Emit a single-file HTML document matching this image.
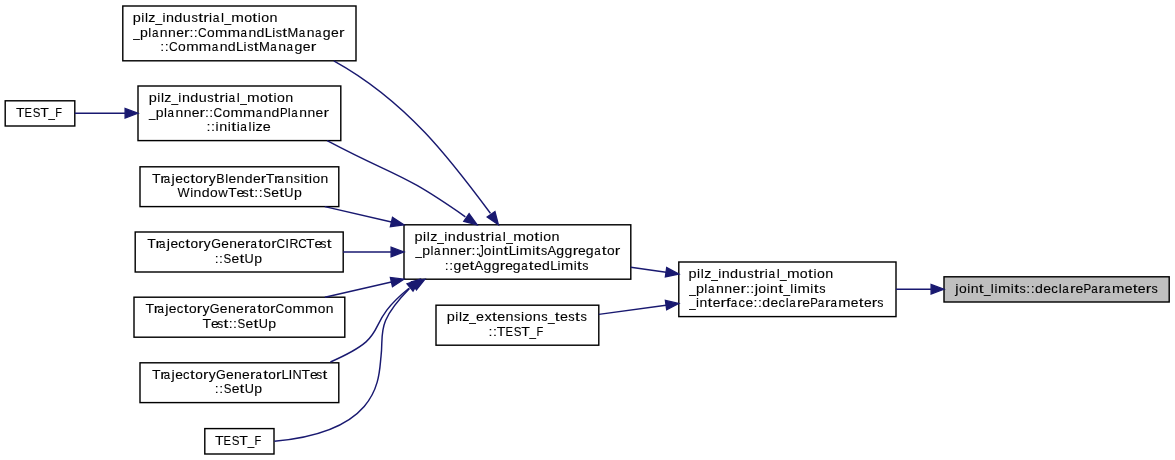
<!DOCTYPE html>
<html><head><meta charset="utf-8"><style>
html,body{margin:0;padding:0;background:#fff;width:1175px;height:460px;overflow:hidden}
svg{display:block}
text{font-family:"Liberation Sans",sans-serif;font-size:13px;fill:#000;stroke:#000;stroke-width:0.1px}
</style></head><body>
<svg width="1175" height="460" viewBox="0 0 1175 460">
<rect width="1175" height="460" fill="#fff"/>
<rect x="122.8" y="6.0" width="233.20" height="54.80" fill="#fff" stroke="#000" stroke-width="1.42"/>
<rect x="5.2" y="100.8" width="69.60" height="25.20" fill="#fff" stroke="#000" stroke-width="1.42"/>
<rect x="138.0" y="86.0" width="202.80" height="54.60" fill="#fff" stroke="#000" stroke-width="1.42"/>
<rect x="140.0" y="166.8" width="198.80" height="39.80" fill="#fff" stroke="#000" stroke-width="1.42"/>
<rect x="135.2" y="232.0" width="208.00" height="40.00" fill="#fff" stroke="#000" stroke-width="1.42"/>
<rect x="134.0" y="297.2" width="210.80" height="40.00" fill="#fff" stroke="#000" stroke-width="1.42"/>
<rect x="140.0" y="362.8" width="198.80" height="39.80" fill="#fff" stroke="#000" stroke-width="1.42"/>
<rect x="204.8" y="428.6" width="69.20" height="25.40" fill="#fff" stroke="#000" stroke-width="1.42"/>
<rect x="404.0" y="224.8" width="226.80" height="54.40" fill="#fff" stroke="#000" stroke-width="1.42"/>
<rect x="436.0" y="305.2" width="162.80" height="40.00" fill="#fff" stroke="#000" stroke-width="1.42"/>
<rect x="678.8" y="262.0" width="217.20" height="54.60" fill="#fff" stroke="#000" stroke-width="1.42"/>
<rect x="944.0" y="276.8" width="225.20" height="25.20" fill="#bfbfbf" stroke="#000" stroke-width="1.42"/>
<path d="M74.8,113.25 L125.10,113.25" fill="none" stroke="#191970" stroke-width="1.45"/>
<polygon points="138.00,113.25 125.10,118.00 125.10,108.50" fill="#191970" stroke="#191970" stroke-width="1.3"/>
<path d="M333.8,60.8 C407.84,101.81 452.33,162.03 490.5,213.4" fill="none" stroke="#191970" stroke-width="1.45"/>
<polygon points="498.40,224.80 487.15,216.90 494.96,211.49" fill="#191970" stroke="#191970" stroke-width="1.3"/>
<path d="M327.1,140.6 C399.56,178.92 398.02,169.89 465.35,216.8" fill="none" stroke="#191970" stroke-width="1.45"/>
<polygon points="477.10,224.80 463.76,221.47 469.11,213.61" fill="#191970" stroke="#191970" stroke-width="1.3"/>
<path d="M324.8,206.6 L391.43,222.00" fill="none" stroke="#191970" stroke-width="1.45"/>
<polygon points="404.00,224.90 390.36,226.62 392.50,217.37" fill="#191970" stroke="#191970" stroke-width="1.3"/>
<path d="M343.2,252.0 L391.10,252.00" fill="none" stroke="#191970" stroke-width="1.45"/>
<polygon points="404.00,252.00 391.10,256.75 391.10,247.25" fill="#191970" stroke="#191970" stroke-width="1.3"/>
<path d="M324.9,297.2 L391.42,282.06" fill="none" stroke="#191970" stroke-width="1.45"/>
<polygon points="404.00,279.20 392.48,286.69 390.37,277.43" fill="#191970" stroke="#191970" stroke-width="1.3"/>
<path d="M330.4,362.0 C396.7,332.87 358.76,328.82 409.0,288.2" fill="none" stroke="#191970" stroke-width="1.45"/>
<polygon points="420.00,279.20 413.02,291.05 407.01,283.69" fill="#191970" stroke="#191970" stroke-width="1.3"/>
<path d="M274.3,441.2 C382.42,431.56 378.61,375.97 381.02,356.37 C383.91,332.83 375.1,323.77 409.5,288.6" fill="none" stroke="#191970" stroke-width="1.45"/>
<polygon points="425.00,279.20 416.43,289.95 411.51,281.83" fill="#191970" stroke="#191970" stroke-width="1.3"/>
<path d="M630.8,267.2 L666.03,272.19" fill="none" stroke="#191970" stroke-width="1.45"/>
<polygon points="678.80,274.00 665.36,276.89 666.69,267.49" fill="#191970" stroke="#191970" stroke-width="1.3"/>
<path d="M598.8,314.4 L666.02,305.16" fill="none" stroke="#191970" stroke-width="1.45"/>
<polygon points="678.80,303.40 666.67,309.86 665.37,300.45" fill="#191970" stroke="#191970" stroke-width="1.3"/>
<path d="M896.0,289.25 L931.10,289.25" fill="none" stroke="#191970" stroke-width="1.45"/>
<polygon points="944.00,289.25 931.10,294.00 931.10,284.50" fill="#191970" stroke="#191970" stroke-width="1.3"/>
<g style="filter:grayscale(1)">
<text transform="translate(136.94,22) scale(1.116,1)" x="-3.76">p</text><text transform="translate(142.79,22) scale(1.049,1)" x="-1.44">i</text><text transform="translate(146.50,22) scale(1.049,1)" x="-1.45">l</text><text transform="translate(151.85,22) scale(1.100,1)" x="-3.19">z</text><text transform="translate(158.69,22) scale(0.915,1)" x="-3.59">_</text><text transform="translate(163.88,22) scale(1.049,1)" x="-1.44">i</text><text transform="translate(169.99,22) scale(1.106,1)" x="-3.62">n</text><text transform="translate(178.18,22) scale(1.115,1)" x="-3.47">d</text><text transform="translate(186.84,22) scale(1.106,1)" x="-3.61">u</text><text transform="translate(194.61,22) scale(0.984,1)" x="-3.20">s</text><text transform="translate(200.69,22) scale(1.350,1)" x="-1.86">t</text><text transform="translate(206.63,22) scale(1.315,1)" x="-2.49">r</text><text transform="translate(210.62,22) scale(1.049,1)" x="-1.44">i</text><text transform="translate(216.36,22) scale(0.923,1)" x="-3.89">a</text><text transform="translate(222.50,22) scale(1.049,1)" x="-1.45">l</text><text transform="translate(227.69,22) scale(0.915,1)" x="-3.59">_</text><text transform="translate(237.56,22) scale(1.169,1)" x="-5.42">m</text><text transform="translate(248.10,22) scale(1.091,1)" x="-3.61">o</text><text transform="translate(254.82,22) scale(1.350,1)" x="-1.86">t</text><text transform="translate(259.27,22) scale(1.049,1)" x="-1.44">i</text><text transform="translate(265.20,22) scale(1.091,1)" x="-3.61">o</text><text transform="translate(273.55,22) scale(1.106,1)" x="-3.62">n</text>
<text transform="translate(136.49,37) scale(0.891,1)" x="-3.59">_</text><text transform="translate(144.10,37) scale(1.087,1)" x="-3.76">p</text><text transform="translate(149.79,37) scale(1.021,1)" x="-1.45">l</text><text transform="translate(155.37,37) scale(0.898,1)" x="-3.89">a</text><text transform="translate(163.71,37) scale(1.077,1)" x="-3.62">n</text><text transform="translate(171.94,37) scale(1.077,1)" x="-3.62">n</text><text transform="translate(180.02,37) scale(1.079,1)" x="-3.60">e</text><text transform="translate(187.27,37) scale(1.280,1)" x="-2.49">r</text><text transform="translate(191.54,37) scale(1.081,1)" x="-1.81">:</text><text transform="translate(195.69,37) scale(1.081,1)" x="-1.81">:</text><text transform="translate(202.42,37) scale(0.927,1)" x="-4.78">C</text><text transform="translate(210.92,37) scale(1.062,1)" x="-3.61">o</text><text transform="translate(221.25,37) scale(1.138,1)" x="-5.42">m</text><text transform="translate(233.90,37) scale(1.138,1)" x="-5.42">m</text><text transform="translate(243.97,37) scale(0.898,1)" x="-3.89">a</text><text transform="translate(252.30,37) scale(1.077,1)" x="-3.62">n</text><text transform="translate(260.27,37) scale(1.086,1)" x="-3.47">d</text><text transform="translate(268.85,37) scale(1.028,1)" x="-3.93">L</text><text transform="translate(273.67,37) scale(1.021,1)" x="-1.44">i</text><text transform="translate(278.89,37) scale(0.958,1)" x="-3.20">s</text><text transform="translate(284.80,37) scale(1.335,1)" x="-1.86">t</text><text transform="translate(292.93,37) scale(0.996,1)" x="-5.41">M</text><text transform="translate(302.31,37) scale(0.898,1)" x="-3.89">a</text><text transform="translate(310.65,37) scale(1.077,1)" x="-3.62">n</text><text transform="translate(318.50,37) scale(0.898,1)" x="-3.89">a</text><text transform="translate(326.57,37) scale(1.086,1)" x="-3.47">g</text><text transform="translate(334.94,37) scale(1.079,1)" x="-3.60">e</text><text transform="translate(342.18,37) scale(1.280,1)" x="-2.49">r</text>
<text transform="translate(162.21,51) scale(1.087,1)" x="-1.81">:</text><text transform="translate(166.61,51) scale(1.087,1)" x="-1.81">:</text><text transform="translate(173.38,51) scale(0.933,1)" x="-4.78">C</text><text transform="translate(181.93,51) scale(1.068,1)" x="-3.61">o</text><text transform="translate(192.32,51) scale(1.145,1)" x="-5.42">m</text><text transform="translate(205.04,51) scale(1.145,1)" x="-5.42">m</text><text transform="translate(215.16,51) scale(0.903,1)" x="-3.89">a</text><text transform="translate(223.54,51) scale(1.083,1)" x="-3.62">n</text><text transform="translate(231.55,51) scale(1.092,1)" x="-3.47">d</text><text transform="translate(240.17,51) scale(1.033,1)" x="-3.93">L</text><text transform="translate(245.02,51) scale(1.027,1)" x="-1.44">i</text><text transform="translate(250.27,51) scale(0.963,1)" x="-3.20">s</text><text transform="translate(256.22,51) scale(1.343,1)" x="-1.86">t</text><text transform="translate(264.39,51) scale(1.002,1)" x="-5.41">M</text><text transform="translate(273.82,51) scale(0.903,1)" x="-3.89">a</text><text transform="translate(282.20,51) scale(1.083,1)" x="-3.62">n</text><text transform="translate(290.10,51) scale(0.903,1)" x="-3.89">a</text><text transform="translate(298.22,51) scale(1.092,1)" x="-3.47">g</text><text transform="translate(306.63,51) scale(1.085,1)" x="-3.60">e</text><text transform="translate(313.91,51) scale(1.287,1)" x="-2.49">r</text>
<text transform="translate(20.21,117) scale(1.085,1)" x="-3.97">T</text><text transform="translate(28.47,117) scale(0.862,1)" x="-4.59">E</text><text transform="translate(36.50,117) scale(0.887,1)" x="-4.33">S</text><text transform="translate(44.49,117) scale(1.085,1)" x="-3.97">T</text><text transform="translate(51.68,117) scale(0.887,1)" x="-3.59">_</text><text transform="translate(58.89,117) scale(0.853,1)" x="-4.24">F</text>
<text transform="translate(152.94,102) scale(1.114,1)" x="-3.76">p</text><text transform="translate(158.78,102) scale(1.047,1)" x="-1.44">i</text><text transform="translate(162.47,102) scale(1.047,1)" x="-1.45">l</text><text transform="translate(167.81,102) scale(1.097,1)" x="-3.19">z</text><text transform="translate(174.64,102) scale(0.913,1)" x="-3.59">_</text><text transform="translate(179.82,102) scale(1.047,1)" x="-1.44">i</text><text transform="translate(185.92,102) scale(1.104,1)" x="-3.62">n</text><text transform="translate(194.09,102) scale(1.113,1)" x="-3.47">d</text><text transform="translate(202.73,102) scale(1.104,1)" x="-3.61">u</text><text transform="translate(210.49,102) scale(0.982,1)" x="-3.20">s</text><text transform="translate(216.55,102) scale(1.350,1)" x="-1.86">t</text><text transform="translate(222.48,102) scale(1.312,1)" x="-2.49">r</text><text transform="translate(226.47,102) scale(1.047,1)" x="-1.44">i</text><text transform="translate(232.19,102) scale(0.921,1)" x="-3.89">a</text><text transform="translate(238.32,102) scale(1.047,1)" x="-1.45">l</text><text transform="translate(243.50,102) scale(0.913,1)" x="-3.59">_</text><text transform="translate(253.35,102) scale(1.167,1)" x="-5.42">m</text><text transform="translate(263.87,102) scale(1.089,1)" x="-3.61">o</text><text transform="translate(270.57,102) scale(1.350,1)" x="-1.86">t</text><text transform="translate(275.01,102) scale(1.047,1)" x="-1.44">i</text><text transform="translate(280.93,102) scale(1.089,1)" x="-3.61">o</text><text transform="translate(289.26,102) scale(1.104,1)" x="-3.62">n</text>
<text transform="translate(152.28,117) scale(0.886,1)" x="-3.59">_</text><text transform="translate(159.85,117) scale(1.081,1)" x="-3.76">p</text><text transform="translate(165.51,117) scale(1.016,1)" x="-1.45">l</text><text transform="translate(171.06,117) scale(0.893,1)" x="-3.89">a</text><text transform="translate(179.35,117) scale(1.071,1)" x="-3.62">n</text><text transform="translate(187.53,117) scale(1.071,1)" x="-3.62">n</text><text transform="translate(195.57,117) scale(1.073,1)" x="-3.60">e</text><text transform="translate(202.77,117) scale(1.273,1)" x="-2.49">r</text><text transform="translate(207.02,117) scale(1.075,1)" x="-1.81">:</text><text transform="translate(211.14,117) scale(1.075,1)" x="-1.81">:</text><text transform="translate(217.84,117) scale(0.922,1)" x="-4.78">C</text><text transform="translate(226.29,117) scale(1.056,1)" x="-3.61">o</text><text transform="translate(236.56,117) scale(1.132,1)" x="-5.42">m</text><text transform="translate(249.14,117) scale(1.132,1)" x="-5.42">m</text><text transform="translate(259.15,117) scale(0.893,1)" x="-3.89">a</text><text transform="translate(267.44,117) scale(1.071,1)" x="-3.62">n</text><text transform="translate(275.36,117) scale(1.080,1)" x="-3.47">d</text><text transform="translate(284.00,117) scale(0.879,1)" x="-4.53">P</text><text transform="translate(289.28,117) scale(1.016,1)" x="-1.45">l</text><text transform="translate(294.83,117) scale(0.893,1)" x="-3.89">a</text><text transform="translate(303.11,117) scale(1.071,1)" x="-3.62">n</text><text transform="translate(311.30,117) scale(1.071,1)" x="-3.62">n</text><text transform="translate(319.34,117) scale(1.073,1)" x="-3.60">e</text><text transform="translate(326.54,117) scale(1.273,1)" x="-2.49">r</text>
<text transform="translate(208.47,131) scale(1.110,1)" x="-1.81">:</text><text transform="translate(212.96,131) scale(1.110,1)" x="-1.81">:</text><text transform="translate(217.06,131) scale(1.049,1)" x="-1.44">i</text><text transform="translate(223.18,131) scale(1.106,1)" x="-3.62">n</text><text transform="translate(229.22,131) scale(1.049,1)" x="-1.44">i</text><text transform="translate(233.71,131) scale(1.350,1)" x="-1.86">t</text><text transform="translate(238.16,131) scale(1.049,1)" x="-1.44">i</text><text transform="translate(243.89,131) scale(0.923,1)" x="-3.89">a</text><text transform="translate(250.04,131) scale(1.049,1)" x="-1.45">l</text><text transform="translate(253.75,131) scale(1.049,1)" x="-1.44">i</text><text transform="translate(259.10,131) scale(1.100,1)" x="-3.19">z</text><text transform="translate(266.72,131) scale(1.109,1)" x="-3.60">e</text>
<text transform="translate(156.20,183) scale(1.083,1)" x="-3.97">T</text><text transform="translate(163.38,183) scale(1.272,1)" x="-2.49">r</text><text transform="translate(167.31,183) scale(0.893,1)" x="-3.89">a</text><text transform="translate(172.53,183) scale(1.120,1)" x="-0.85">j</text><text transform="translate(179.03,183) scale(1.072,1)" x="-3.60">e</text><text transform="translate(186.49,183) scale(0.996,1)" x="-3.35">c</text><text transform="translate(192.64,183) scale(1.327,1)" x="-1.86">t</text><text transform="translate(199.10,183) scale(1.056,1)" x="-3.61">o</text><text transform="translate(206.28,183) scale(1.272,1)" x="-2.49">r</text><text transform="translate(212.17,183) scale(1.066,1)" x="-3.25">y</text><text transform="translate(220.59,183) scale(0.965,1)" x="-4.53">B</text><text transform="translate(226.64,183) scale(1.015,1)" x="-1.45">l</text><text transform="translate(232.42,183) scale(1.072,1)" x="-3.60">e</text><text transform="translate(240.50,183) scale(1.071,1)" x="-3.62">n</text><text transform="translate(248.42,183) scale(1.079,1)" x="-3.47">d</text><text transform="translate(256.73,183) scale(1.072,1)" x="-3.60">e</text><text transform="translate(263.93,183) scale(1.272,1)" x="-2.49">r</text><text transform="translate(269.94,183) scale(1.083,1)" x="-3.97">T</text><text transform="translate(277.12,183) scale(1.272,1)" x="-2.49">r</text><text transform="translate(281.05,183) scale(0.893,1)" x="-3.89">a</text><text transform="translate(289.33,183) scale(1.071,1)" x="-3.62">n</text><text transform="translate(296.78,183) scale(0.952,1)" x="-3.20">s</text><text transform="translate(301.90,183) scale(1.015,1)" x="-1.44">i</text><text transform="translate(306.24,183) scale(1.327,1)" x="-1.86">t</text><text transform="translate(310.55,183) scale(1.015,1)" x="-1.44">i</text><text transform="translate(316.29,183) scale(1.056,1)" x="-3.61">o</text><text transform="translate(324.36,183) scale(1.071,1)" x="-3.62">n</text>
<text transform="translate(183.56,197) scale(0.987,1)" x="-6.14">W</text><text transform="translate(191.80,197) scale(1.023,1)" x="-1.44">i</text><text transform="translate(197.48,197) scale(1.079,1)" x="-3.62">n</text><text transform="translate(205.47,197) scale(1.088,1)" x="-3.47">d</text><text transform="translate(213.81,197) scale(1.064,1)" x="-3.61">o</text><text transform="translate(223.11,197) scale(1.012,1)" x="-4.70">w</text><text transform="translate(232.41,197) scale(1.092,1)" x="-3.97">T</text><text transform="translate(240.39,197) scale(1.081,1)" x="-3.60">e</text><text transform="translate(245.60,197) scale(0.959,1)" x="-3.20">s</text><text transform="translate(251.52,197) scale(1.338,1)" x="-1.86">t</text><text transform="translate(256.25,197) scale(1.083,1)" x="-1.81">:</text><text transform="translate(260.63,197) scale(1.083,1)" x="-1.81">:</text><text transform="translate(267.02,197) scale(0.892,1)" x="-4.33">S</text><text transform="translate(275.10,197) scale(1.081,1)" x="-3.60">e</text><text transform="translate(281.66,197) scale(1.338,1)" x="-1.86">t</text><text transform="translate(288.95,197) scale(0.984,1)" x="-4.69">U</text><text transform="translate(298.08,197) scale(1.089,1)" x="-3.76">p</text>
<text transform="translate(151.50,248) scale(1.079,1)" x="-3.97">T</text><text transform="translate(158.65,248) scale(1.267,1)" x="-2.49">r</text><text transform="translate(162.56,248) scale(0.890,1)" x="-3.89">a</text><text transform="translate(167.77,248) scale(1.116,1)" x="-0.85">j</text><text transform="translate(174.24,248) scale(1.068,1)" x="-3.60">e</text><text transform="translate(181.68,248) scale(0.993,1)" x="-3.35">c</text><text transform="translate(187.79,248) scale(1.322,1)" x="-1.86">t</text><text transform="translate(194.23,248) scale(1.052,1)" x="-3.61">o</text><text transform="translate(201.39,248) scale(1.267,1)" x="-2.49">r</text><text transform="translate(207.26,248) scale(1.062,1)" x="-3.25">y</text><text transform="translate(215.88,248) scale(0.965,1)" x="-4.90">G</text><text transform="translate(225.00,248) scale(1.068,1)" x="-3.60">e</text><text transform="translate(233.05,248) scale(1.067,1)" x="-3.62">n</text><text transform="translate(241.06,248) scale(1.068,1)" x="-3.60">e</text><text transform="translate(248.23,248) scale(1.267,1)" x="-2.49">r</text><text transform="translate(254.03,248) scale(0.890,1)" x="-3.89">a</text><text transform="translate(260.71,248) scale(1.322,1)" x="-1.86">t</text><text transform="translate(267.15,248) scale(1.052,1)" x="-3.61">o</text><text transform="translate(274.31,248) scale(1.267,1)" x="-2.49">r</text><text transform="translate(280.87,248) scale(0.918,1)" x="-4.78">C</text><text transform="translate(287.24,248) scale(1.046,1)" x="-1.81">I</text><text transform="translate(294.05,248) scale(0.946,1)" x="-4.93">R</text><text transform="translate(302.58,248) scale(0.918,1)" x="-4.78">C</text><text transform="translate(310.34,248) scale(1.079,1)" x="-3.97">T</text><text transform="translate(318.24,248) scale(1.068,1)" x="-3.60">e</text><text transform="translate(323.38,248) scale(0.948,1)" x="-3.20">s</text><text transform="translate(329.24,248) scale(1.322,1)" x="-1.86">t</text>
<text transform="translate(216.67,263) scale(1.077,1)" x="-1.81">:</text><text transform="translate(221.02,263) scale(1.077,1)" x="-1.81">:</text><text transform="translate(227.37,263) scale(0.887,1)" x="-4.33">S</text><text transform="translate(235.40,263) scale(1.075,1)" x="-3.60">e</text><text transform="translate(241.92,263) scale(1.330,1)" x="-1.86">t</text><text transform="translate(249.17,263) scale(0.978,1)" x="-4.69">U</text><text transform="translate(258.25,263) scale(1.082,1)" x="-3.76">p</text>
<text transform="translate(149.83,313) scale(1.085,1)" x="-3.97">T</text><text transform="translate(157.02,313) scale(1.274,1)" x="-2.49">r</text><text transform="translate(160.95,313) scale(0.894,1)" x="-3.89">a</text><text transform="translate(166.18,313) scale(1.122,1)" x="-0.85">j</text><text transform="translate(172.69,313) scale(1.074,1)" x="-3.60">e</text><text transform="translate(180.16,313) scale(0.998,1)" x="-3.35">c</text><text transform="translate(186.32,313) scale(1.329,1)" x="-1.86">t</text><text transform="translate(192.79,313) scale(1.057,1)" x="-3.61">o</text><text transform="translate(199.99,313) scale(1.274,1)" x="-2.49">r</text><text transform="translate(205.88,313) scale(1.068,1)" x="-3.25">y</text><text transform="translate(214.55,313) scale(0.970,1)" x="-4.90">G</text><text transform="translate(223.71,313) scale(1.074,1)" x="-3.60">e</text><text transform="translate(231.81,313) scale(1.072,1)" x="-3.62">n</text><text transform="translate(239.86,313) scale(1.074,1)" x="-3.60">e</text><text transform="translate(247.07,313) scale(1.274,1)" x="-2.49">r</text><text transform="translate(252.90,313) scale(0.894,1)" x="-3.89">a</text><text transform="translate(259.61,313) scale(1.329,1)" x="-1.86">t</text><text transform="translate(266.09,313) scale(1.057,1)" x="-3.61">o</text><text transform="translate(273.28,313) scale(1.274,1)" x="-2.49">r</text><text transform="translate(279.88,313) scale(0.923,1)" x="-4.78">C</text><text transform="translate(288.34,313) scale(1.057,1)" x="-3.61">o</text><text transform="translate(298.63,313) scale(1.133,1)" x="-5.42">m</text><text transform="translate(311.22,313) scale(1.133,1)" x="-5.42">m</text><text transform="translate(321.43,313) scale(1.057,1)" x="-3.61">o</text><text transform="translate(329.52,313) scale(1.072,1)" x="-3.62">n</text>
<text transform="translate(206.91,328) scale(1.088,1)" x="-3.97">T</text><text transform="translate(214.87,328) scale(1.077,1)" x="-3.60">e</text><text transform="translate(220.06,328) scale(0.956,1)" x="-3.20">s</text><text transform="translate(225.96,328) scale(1.333,1)" x="-1.86">t</text><text transform="translate(230.67,328) scale(1.079,1)" x="-1.81">:</text><text transform="translate(235.04,328) scale(1.079,1)" x="-1.81">:</text><text transform="translate(241.40,328) scale(0.889,1)" x="-4.33">S</text><text transform="translate(249.45,328) scale(1.077,1)" x="-3.60">e</text><text transform="translate(255.99,328) scale(1.333,1)" x="-1.86">t</text><text transform="translate(263.25,328) scale(0.980,1)" x="-4.69">U</text><text transform="translate(272.35,328) scale(1.085,1)" x="-3.76">p</text>
<text transform="translate(156.19,379) scale(1.081,1)" x="-3.97">T</text><text transform="translate(163.36,379) scale(1.270,1)" x="-2.49">r</text><text transform="translate(167.28,379) scale(0.891,1)" x="-3.89">a</text><text transform="translate(172.50,379) scale(1.118,1)" x="-0.85">j</text><text transform="translate(178.99,379) scale(1.071,1)" x="-3.60">e</text><text transform="translate(186.44,379) scale(0.995,1)" x="-3.35">c</text><text transform="translate(192.57,379) scale(1.325,1)" x="-1.86">t</text><text transform="translate(199.02,379) scale(1.054,1)" x="-3.61">o</text><text transform="translate(206.20,379) scale(1.270,1)" x="-2.49">r</text><text transform="translate(212.08,379) scale(1.065,1)" x="-3.25">y</text><text transform="translate(220.72,379) scale(0.967,1)" x="-4.90">G</text><text transform="translate(229.85,379) scale(1.071,1)" x="-3.60">e</text><text transform="translate(237.93,379) scale(1.069,1)" x="-3.62">n</text><text transform="translate(245.95,379) scale(1.071,1)" x="-3.60">e</text><text transform="translate(253.14,379) scale(1.270,1)" x="-2.49">r</text><text transform="translate(258.95,379) scale(0.891,1)" x="-3.89">a</text><text transform="translate(265.64,379) scale(1.325,1)" x="-1.86">t</text><text transform="translate(272.10,379) scale(1.054,1)" x="-3.61">o</text><text transform="translate(279.27,379) scale(1.270,1)" x="-2.49">r</text><text transform="translate(285.52,379) scale(1.020,1)" x="-3.93">L</text><text transform="translate(290.42,379) scale(1.048,1)" x="-1.81">I</text><text transform="translate(297.14,379) scale(0.979,1)" x="-4.70">N</text><text transform="translate(305.90,379) scale(1.081,1)" x="-3.97">T</text><text transform="translate(313.81,379) scale(1.071,1)" x="-3.60">e</text><text transform="translate(318.96,379) scale(0.950,1)" x="-3.20">s</text><text transform="translate(324.83,379) scale(1.325,1)" x="-1.86">t</text>
<text transform="translate(216.79,393) scale(1.078,1)" x="-1.81">:</text><text transform="translate(221.15,393) scale(1.078,1)" x="-1.81">:</text><text transform="translate(227.50,393) scale(0.888,1)" x="-4.33">S</text><text transform="translate(235.54,393) scale(1.076,1)" x="-3.60">e</text><text transform="translate(242.07,393) scale(1.331,1)" x="-1.86">t</text><text transform="translate(249.33,393) scale(0.979,1)" x="-4.69">U</text><text transform="translate(258.41,393) scale(1.084,1)" x="-3.76">p</text>
<text transform="translate(219.23,445) scale(1.090,1)" x="-3.97">T</text><text transform="translate(227.53,445) scale(0.867,1)" x="-4.59">E</text><text transform="translate(235.60,445) scale(0.891,1)" x="-4.33">S</text><text transform="translate(243.63,445) scale(1.090,1)" x="-3.97">T</text><text transform="translate(250.85,445) scale(0.892,1)" x="-3.59">_</text><text transform="translate(258.10,445) scale(0.857,1)" x="-4.24">F</text>
<text transform="translate(418.76,241) scale(1.117,1)" x="-3.76">p</text><text transform="translate(424.61,241) scale(1.050,1)" x="-1.44">i</text><text transform="translate(428.32,241) scale(1.050,1)" x="-1.45">l</text><text transform="translate(433.68,241) scale(1.100,1)" x="-3.19">z</text><text transform="translate(440.52,241) scale(0.916,1)" x="-3.59">_</text><text transform="translate(445.71,241) scale(1.050,1)" x="-1.44">i</text><text transform="translate(451.83,241) scale(1.107,1)" x="-3.62">n</text><text transform="translate(460.02,241) scale(1.116,1)" x="-3.47">d</text><text transform="translate(468.69,241) scale(1.107,1)" x="-3.61">u</text><text transform="translate(476.48,241) scale(0.984,1)" x="-3.20">s</text><text transform="translate(482.55,241) scale(1.350,1)" x="-1.86">t</text><text transform="translate(488.50,241) scale(1.316,1)" x="-2.49">r</text><text transform="translate(492.50,241) scale(1.050,1)" x="-1.44">i</text><text transform="translate(498.23,241) scale(0.924,1)" x="-3.89">a</text><text transform="translate(504.39,241) scale(1.050,1)" x="-1.45">l</text><text transform="translate(509.58,241) scale(0.916,1)" x="-3.59">_</text><text transform="translate(519.46,241) scale(1.170,1)" x="-5.42">m</text><text transform="translate(530.01,241) scale(1.092,1)" x="-3.61">o</text><text transform="translate(536.73,241) scale(1.350,1)" x="-1.86">t</text><text transform="translate(541.18,241) scale(1.050,1)" x="-1.44">i</text><text transform="translate(547.12,241) scale(1.092,1)" x="-3.61">o</text><text transform="translate(555.47,241) scale(1.107,1)" x="-3.62">n</text>
<text transform="translate(418.63,255) scale(0.888,1)" x="-3.59">_</text><text transform="translate(426.22,255) scale(1.084,1)" x="-3.76">p</text><text transform="translate(431.90,255) scale(1.018,1)" x="-1.45">l</text><text transform="translate(437.46,255) scale(0.896,1)" x="-3.89">a</text><text transform="translate(445.77,255) scale(1.074,1)" x="-3.62">n</text><text transform="translate(453.98,255) scale(1.074,1)" x="-3.62">n</text><text transform="translate(462.04,255) scale(1.076,1)" x="-3.60">e</text><text transform="translate(469.26,255) scale(1.276,1)" x="-2.49">r</text><text transform="translate(473.52,255) scale(1.078,1)" x="-1.81">:</text><text transform="translate(477.65,255) scale(1.078,1)" x="-1.81">:</text><text transform="translate(480.77,257.4) scale(0.8,1.3)" x="-2.87">J</text><text transform="translate(487.62,255) scale(1.059,1)" x="-3.61">o</text><text transform="translate(493.38,255) scale(1.018,1)" x="-1.44">i</text><text transform="translate(499.32,255) scale(1.074,1)" x="-3.62">n</text><text transform="translate(505.94,255) scale(1.331,1)" x="-1.86">t</text><text transform="translate(512.67,255) scale(1.025,1)" x="-3.93">L</text><text transform="translate(517.48,255) scale(1.018,1)" x="-1.44">i</text><text transform="translate(525.62,255) scale(1.135,1)" x="-5.42">m</text><text transform="translate(533.69,255) scale(1.018,1)" x="-1.44">i</text><text transform="translate(538.04,255) scale(1.331,1)" x="-1.86">t</text><text transform="translate(543.97,255) scale(0.955,1)" x="-3.20">s</text><text transform="translate(551.73,255) scale(1.004,1)" x="-4.34">A</text><text transform="translate(560.05,255) scale(1.083,1)" x="-3.47">g</text><text transform="translate(568.27,255) scale(1.083,1)" x="-3.47">g</text><text transform="translate(575.86,255) scale(1.276,1)" x="-2.49">r</text><text transform="translate(581.93,255) scale(1.076,1)" x="-3.60">e</text><text transform="translate(589.50,255) scale(1.083,1)" x="-3.47">g</text><text transform="translate(597.61,255) scale(0.896,1)" x="-3.89">a</text><text transform="translate(604.33,255) scale(1.331,1)" x="-1.86">t</text><text transform="translate(610.82,255) scale(1.059,1)" x="-3.61">o</text><text transform="translate(618.03,255) scale(1.276,1)" x="-2.49">r</text>
<text transform="translate(446.79,270) scale(1.074,1)" x="-1.81">:</text><text transform="translate(451.14,270) scale(1.074,1)" x="-1.81">:</text><text transform="translate(457.18,270) scale(1.079,1)" x="-3.47">g</text><text transform="translate(465.48,270) scale(1.072,1)" x="-3.60">e</text><text transform="translate(471.99,270) scale(1.326,1)" x="-1.86">t</text><text transform="translate(478.91,270) scale(1.000,1)" x="-4.34">A</text><text transform="translate(487.19,270) scale(1.079,1)" x="-3.47">g</text><text transform="translate(495.38,270) scale(1.079,1)" x="-3.47">g</text><text transform="translate(502.94,270) scale(1.272,1)" x="-2.49">r</text><text transform="translate(508.99,270) scale(1.072,1)" x="-3.60">e</text><text transform="translate(516.53,270) scale(1.079,1)" x="-3.47">g</text><text transform="translate(524.61,270) scale(0.892,1)" x="-3.89">a</text><text transform="translate(531.31,270) scale(1.326,1)" x="-1.86">t</text><text transform="translate(537.80,270) scale(1.072,1)" x="-3.60">e</text><text transform="translate(545.62,270) scale(1.079,1)" x="-3.47">d</text><text transform="translate(554.14,270) scale(1.021,1)" x="-3.93">L</text><text transform="translate(558.93,270) scale(1.014,1)" x="-1.44">i</text><text transform="translate(567.04,270) scale(1.131,1)" x="-5.42">m</text><text transform="translate(575.08,270) scale(1.014,1)" x="-1.44">i</text><text transform="translate(579.42,270) scale(1.326,1)" x="-1.86">t</text><text transform="translate(585.32,270) scale(0.951,1)" x="-3.20">s</text>
<text transform="translate(450.91,321) scale(1.116,1)" x="-3.76">p</text><text transform="translate(456.76,321) scale(1.048,1)" x="-1.44">i</text><text transform="translate(460.46,321) scale(1.048,1)" x="-1.45">l</text><text transform="translate(465.81,321) scale(1.099,1)" x="-3.19">z</text><text transform="translate(472.64,321) scale(0.915,1)" x="-3.59">_</text><text transform="translate(480.09,321) scale(1.108,1)" x="-3.60">e</text><text transform="translate(488.09,321) scale(1.138,1)" x="-3.25">x</text><text transform="translate(494.47,321) scale(1.350,1)" x="-1.86">t</text><text transform="translate(501.17,321) scale(1.108,1)" x="-3.60">e</text><text transform="translate(509.53,321) scale(1.106,1)" x="-3.62">n</text><text transform="translate(517.22,321) scale(0.983,1)" x="-3.20">s</text><text transform="translate(522.51,321) scale(1.048,1)" x="-1.44">i</text><text transform="translate(528.44,321) scale(1.090,1)" x="-3.61">o</text><text transform="translate(536.78,321) scale(1.106,1)" x="-3.62">n</text><text transform="translate(544.47,321) scale(0.983,1)" x="-3.20">s</text><text transform="translate(551.24,321) scale(0.915,1)" x="-3.59">_</text><text transform="translate(557.21,321) scale(1.350,1)" x="-1.86">t</text><text transform="translate(563.92,321) scale(1.108,1)" x="-3.60">e</text><text transform="translate(571.51,321) scale(0.983,1)" x="-3.20">s</text><text transform="translate(577.58,321) scale(1.350,1)" x="-1.86">t</text><text transform="translate(583.68,321) scale(0.983,1)" x="-3.20">s</text>
<text transform="translate(490.54,336) scale(1.084,1)" x="-1.81">:</text><text transform="translate(494.93,336) scale(1.084,1)" x="-1.81">:</text><text transform="translate(501.09,336) scale(1.092,1)" x="-3.97">T</text><text transform="translate(509.40,336) scale(0.868,1)" x="-4.59">E</text><text transform="translate(517.49,336) scale(0.893,1)" x="-4.33">S</text><text transform="translate(525.53,336) scale(1.092,1)" x="-3.97">T</text><text transform="translate(532.76,336) scale(0.893,1)" x="-3.59">_</text><text transform="translate(540.02,336) scale(0.858,1)" x="-4.24">F</text>
<text transform="translate(692.75,278) scale(1.115,1)" x="-3.76">p</text><text transform="translate(698.59,278) scale(1.048,1)" x="-1.44">i</text><text transform="translate(702.29,278) scale(1.048,1)" x="-1.45">l</text><text transform="translate(707.64,278) scale(1.098,1)" x="-3.19">z</text><text transform="translate(714.47,278) scale(0.914,1)" x="-3.59">_</text><text transform="translate(719.65,278) scale(1.048,1)" x="-1.44">i</text><text transform="translate(725.76,278) scale(1.105,1)" x="-3.62">n</text><text transform="translate(733.93,278) scale(1.114,1)" x="-3.47">d</text><text transform="translate(742.58,278) scale(1.105,1)" x="-3.61">u</text><text transform="translate(750.35,278) scale(0.982,1)" x="-3.20">s</text><text transform="translate(756.42,278) scale(1.350,1)" x="-1.86">t</text><text transform="translate(762.35,278) scale(1.313,1)" x="-2.49">r</text><text transform="translate(766.34,278) scale(1.048,1)" x="-1.44">i</text><text transform="translate(772.07,278) scale(0.922,1)" x="-3.89">a</text><text transform="translate(778.21,278) scale(1.048,1)" x="-1.45">l</text><text transform="translate(783.39,278) scale(0.914,1)" x="-3.59">_</text><text transform="translate(793.25,278) scale(1.168,1)" x="-5.42">m</text><text transform="translate(803.78,278) scale(1.090,1)" x="-3.61">o</text><text transform="translate(810.48,278) scale(1.350,1)" x="-1.86">t</text><text transform="translate(814.93,278) scale(1.048,1)" x="-1.44">i</text><text transform="translate(820.85,278) scale(1.090,1)" x="-3.61">o</text><text transform="translate(829.19,278) scale(1.105,1)" x="-3.62">n</text>
<text transform="translate(692.40,293) scale(0.902,1)" x="-3.59">_</text><text transform="translate(700.10,293) scale(1.100,1)" x="-3.76">p</text><text transform="translate(705.86,293) scale(1.033,1)" x="-1.45">l</text><text transform="translate(711.51,293) scale(0.909,1)" x="-3.89">a</text><text transform="translate(719.94,293) scale(1.090,1)" x="-3.62">n</text><text transform="translate(728.26,293) scale(1.090,1)" x="-3.62">n</text><text transform="translate(736.44,293) scale(1.092,1)" x="-3.60">e</text><text transform="translate(743.77,293) scale(1.295,1)" x="-2.49">r</text><text transform="translate(748.09,293) scale(1.094,1)" x="-1.81">:</text><text transform="translate(752.29,293) scale(1.094,1)" x="-1.81">:</text><text transform="translate(755.59,293) scale(1.140,1)" x="-0.85">j</text><text transform="translate(762.17,293) scale(1.075,1)" x="-3.61">o</text><text transform="translate(768.02,293) scale(1.033,1)" x="-1.44">i</text><text transform="translate(774.05,293) scale(1.090,1)" x="-3.62">n</text><text transform="translate(780.77,293) scale(1.350,1)" x="-1.86">t</text><text transform="translate(786.61,293) scale(0.902,1)" x="-3.59">_</text><text transform="translate(791.72,293) scale(1.033,1)" x="-1.45">l</text><text transform="translate(795.37,293) scale(1.033,1)" x="-1.44">i</text><text transform="translate(803.63,293) scale(1.152,1)" x="-5.42">m</text><text transform="translate(811.82,293) scale(1.033,1)" x="-1.44">i</text><text transform="translate(816.24,293) scale(1.350,1)" x="-1.86">t</text><text transform="translate(822.25,293) scale(0.969,1)" x="-3.20">s</text>
<text transform="translate(692.51,307) scale(0.886,1)" x="-3.59">_</text><text transform="translate(697.53,307) scale(1.016,1)" x="-1.44">i</text><text transform="translate(703.46,307) scale(1.071,1)" x="-3.62">n</text><text transform="translate(710.06,307) scale(1.328,1)" x="-1.86">t</text><text transform="translate(716.56,307) scale(1.073,1)" x="-3.60">e</text><text transform="translate(723.77,307) scale(1.273,1)" x="-2.49">r</text><text transform="translate(728.38,307) scale(1.305,1)" x="-1.91">f</text><text transform="translate(734.15,307) scale(0.894,1)" x="-3.89">a</text><text transform="translate(741.81,307) scale(0.997,1)" x="-3.35">c</text><text transform="translate(749.39,307) scale(1.073,1)" x="-3.60">e</text><text transform="translate(755.53,307) scale(1.075,1)" x="-1.81">:</text><text transform="translate(759.89,307) scale(1.075,1)" x="-1.81">:</text><text transform="translate(765.93,307) scale(1.080,1)" x="-3.47">d</text><text transform="translate(774.25,307) scale(1.073,1)" x="-3.60">e</text><text transform="translate(781.72,307) scale(0.997,1)" x="-3.35">c</text><text transform="translate(787.11,307) scale(1.016,1)" x="-1.45">l</text><text transform="translate(792.66,307) scale(0.894,1)" x="-3.89">a</text><text transform="translate(800.06,307) scale(1.273,1)" x="-2.49">r</text><text transform="translate(806.12,307) scale(1.073,1)" x="-3.60">e</text><text transform="translate(814.10,307) scale(0.879,1)" x="-4.53">P</text><text transform="translate(821.35,307) scale(0.894,1)" x="-3.89">a</text><text transform="translate(828.17,307) scale(1.273,1)" x="-2.49">r</text><text transform="translate(833.99,307) scale(0.894,1)" x="-3.89">a</text><text transform="translate(844.48,307) scale(1.132,1)" x="-5.42">m</text><text transform="translate(854.72,307) scale(1.073,1)" x="-3.60">e</text><text transform="translate(861.24,307) scale(1.328,1)" x="-1.86">t</text><text transform="translate(867.74,307) scale(1.073,1)" x="-3.60">e</text><text transform="translate(874.94,307) scale(1.273,1)" x="-2.49">r</text><text transform="translate(880.41,307) scale(0.953,1)" x="-3.20">s</text>
<text transform="translate(956.32,293) scale(1.134,1)" x="-0.85">j</text><text transform="translate(962.87,293) scale(1.069,1)" x="-3.61">o</text><text transform="translate(968.68,293) scale(1.028,1)" x="-1.44">i</text><text transform="translate(974.68,293) scale(1.084,1)" x="-3.62">n</text><text transform="translate(981.36,293) scale(1.344,1)" x="-1.86">t</text><text transform="translate(987.17,293) scale(0.897,1)" x="-3.59">_</text><text transform="translate(992.26,293) scale(1.028,1)" x="-1.45">l</text><text transform="translate(995.89,293) scale(1.028,1)" x="-1.44">i</text><text transform="translate(1004.11,293) scale(1.146,1)" x="-5.42">m</text><text transform="translate(1012.25,293) scale(1.028,1)" x="-1.44">i</text><text transform="translate(1016.64,293) scale(1.344,1)" x="-1.86">t</text><text transform="translate(1022.63,293) scale(0.964,1)" x="-3.20">s</text><text transform="translate(1028.20,293) scale(1.088,1)" x="-1.81">:</text><text transform="translate(1032.60,293) scale(1.088,1)" x="-1.81">:</text><text transform="translate(1038.72,293) scale(1.093,1)" x="-3.47">d</text><text transform="translate(1047.13,293) scale(1.086,1)" x="-3.60">e</text><text transform="translate(1054.69,293) scale(1.009,1)" x="-3.35">c</text><text transform="translate(1060.15,293) scale(1.028,1)" x="-1.45">l</text><text transform="translate(1065.76,293) scale(0.904,1)" x="-3.89">a</text><text transform="translate(1073.25,293) scale(1.288,1)" x="-2.49">r</text><text transform="translate(1079.38,293) scale(1.086,1)" x="-3.60">e</text><text transform="translate(1087.46,293) scale(0.889,1)" x="-4.53">P</text><text transform="translate(1094.78,293) scale(0.904,1)" x="-3.89">a</text><text transform="translate(1101.68,293) scale(1.288,1)" x="-2.49">r</text><text transform="translate(1107.58,293) scale(0.904,1)" x="-3.89">a</text><text transform="translate(1118.19,293) scale(1.146,1)" x="-5.42">m</text><text transform="translate(1128.55,293) scale(1.086,1)" x="-3.60">e</text><text transform="translate(1135.14,293) scale(1.344,1)" x="-1.86">t</text><text transform="translate(1141.72,293) scale(1.086,1)" x="-3.60">e</text><text transform="translate(1149.01,293) scale(1.288,1)" x="-2.49">r</text><text transform="translate(1154.54,293) scale(0.964,1)" x="-3.20">s</text>
</g>
</svg>
</body></html>
